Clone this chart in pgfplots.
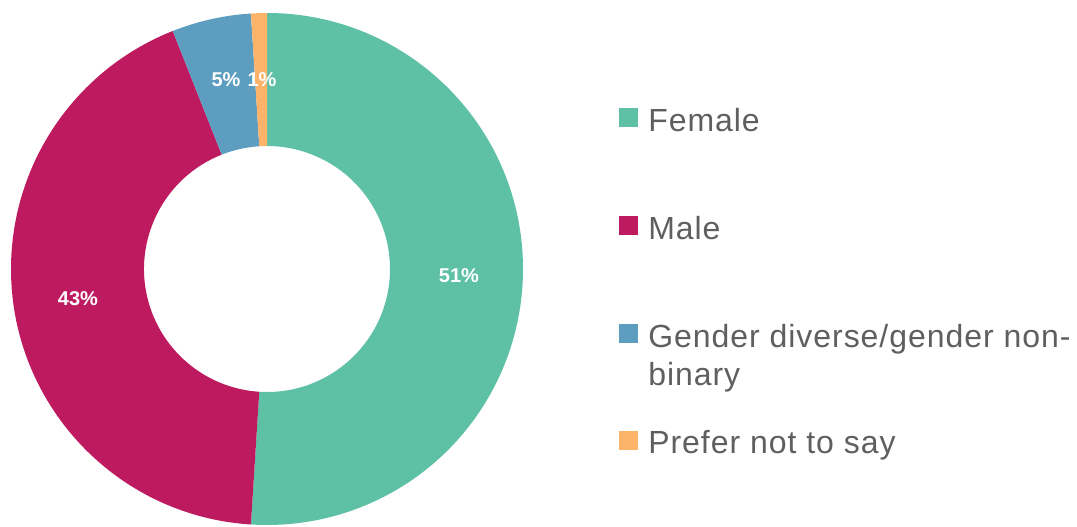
\documentclass[border=0pt]{standalone}
\usepackage{fontspec}
\setmainfont{Liberation Sans}
\newfontfamily\legfont[LetterSpace=3]{Liberation Sans}
\usepackage{pgfplots}
\usepackage{pgfplotstable}
\pgfplotsset{compat=1.18}
\definecolor{cFemale}{HTML}{5EC0A4}
\definecolor{cMale}{HTML}{BE1A60}
\definecolor{cDiverse}{HTML}{5D9EC0}
\definecolor{cPrefer}{HTML}{FDB36A}
\definecolor{legtext}{HTML}{5F5F5F}

\pgfplotstableread[col sep=comma]{
label,value,color,lx,ly
Female,51,cFemale,459,250
Male,43,cMale,78,227
Diverse,5,cDiverse,226,446
Prefer,1,cPrefer,262,446
}\gendata

\begin{document}
\begin{tikzpicture}
\begin{axis}[width=807.75pt,height=394.5pt,scale only axis,
  xmin=0,xmax=1077,ymin=0,ymax=526,hide axis,clip=false]
\def\acc{90}
\pgfplotsforeachungrouped \i in {0,...,3}{%
  \pgfplotstablegetelem{\i}{value}\of\gendata \let\val\pgfplotsretval
  \pgfplotstablegetelem{\i}{color}\of\gendata \let\col\pgfplotsretval
  \pgfmathsetmacro{\endang}{\acc-3.6*\val}%
  \pgfmathsetmacro{\xa}{267+256*cos(\acc)}%
  \pgfmathsetmacro{\ya}{257+256*sin(\acc)}%
  \pgfmathsetmacro{\xb}{267+123*cos(\endang)}%
  \pgfmathsetmacro{\yb}{257+123*sin(\endang)}%
  \edef\temp{\noexpand\fill[\col] (axis cs:\xa,\ya) arc[start angle=\acc, end angle=\endang, radius=192pt] -- (axis cs:\xb,\yb) arc[start angle=\endang, end angle=\acc, radius=92.25pt] -- cycle;}%
  \temp
  \let\acc\endang
}
\pgfplotsforeachungrouped \i in {0,...,3}{%
  \pgfplotstablegetelem{\i}{value}\of\gendata \let\val\pgfplotsretval
  \pgfplotstablegetelem{\i}{lx}\of\gendata \let\lx\pgfplotsretval
  \pgfplotstablegetelem{\i}{ly}\of\gendata \let\ly\pgfplotsretval
  \edef\temp{\noexpand\node[text=white,font=\noexpand\fontsize{15}{18}\noexpand\selectfont\noexpand\bfseries,inner sep=0pt] at (axis cs:\lx,\ly) {\val\noexpand\%};}%
  \temp
}
% legend
\fill[cFemale]  (axis cs:619,418) rectangle (axis cs:638,399);
\fill[cMale]    (axis cs:619,310) rectangle (axis cs:638,291);
\fill[cDiverse] (axis cs:619,202) rectangle (axis cs:638,183);
\fill[cPrefer]  (axis cs:619,95)  rectangle (axis cs:638,76);
\begin{scope}[every node/.style={anchor=base west,inner sep=0pt,text=legtext,font=\legfont\fontsize{24}{28}\selectfont}]
\node at (axis cs:648,395) {Female};
\node at (axis cs:648,287) {Male};
\node at (axis cs:648,179) {Gender diverse/gender non-};
\node at (axis cs:648,141) {binary};
\node at (axis cs:648,73) {Prefer not to say};
\end{scope}
\end{axis}
\pgfresetboundingbox
\path (current axis.south west) rectangle (current axis.north east);
\end{tikzpicture}
\end{document}
